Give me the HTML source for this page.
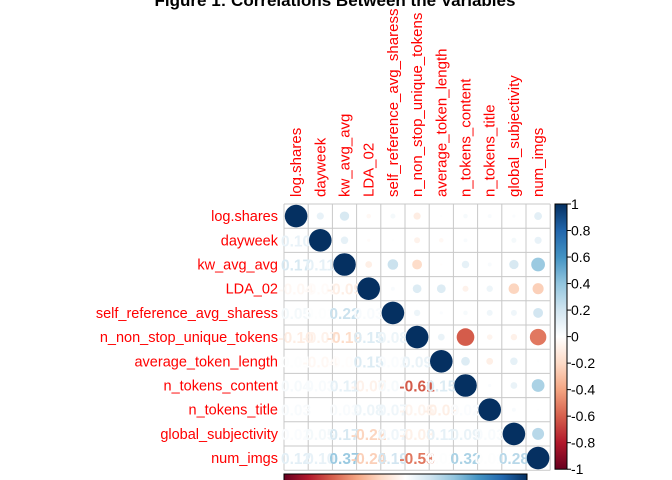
<!DOCTYPE html>
<html><head><meta charset="utf-8"><style>
html,body{margin:0;padding:0;background:#fff;}
svg{display:block;font-family:"Liberation Sans",Arial,sans-serif;}
</style></head><body>
<svg id="chart" width="672" height="480" viewBox="0 0 672 480">
<text x="335" y="6" text-anchor="middle" font-size="17" font-weight="bold" fill="#000">Figure 1: Correlations Between the Variables</text>
<defs>
<linearGradient id="hgrad" x1="0" x2="1" y1="0" y2="0"></linearGradient>
<linearGradient id="vgrad" x1="0" x2="0" y1="1" y2="0"></linearGradient>
</defs>
</svg>
<script>
const variables = ["log.shares","dayweek","kw_avg_avg","LDA_02","self_reference_avg_sharess","n_non_stop_unique_tokens","average_token_length","n_tokens_content","n_tokens_title","global_subjectivity","num_imgs"];
const lowerRows = [
 [],
 [0.10],
 [0.17,0.11],
 [-0.04,-0.02,-0.09],
 [0.05,0.01,0.22,0.03],
 [-0.10,-0.07,-0.19,0.15,0.08],
 [0.01,-0.04,-0.01,0.15,0.02,0.09],
 [0.04,0.03,0.11,-0.07,0.04,-0.61,0.15],
 [0.03,0.00,0.03,0.08,0.07,-0.06,-0.09,0.02],
 [0.02,0.05,0.17,-0.22,0.07,-0.08,0.11,0.09,0.03],
 [0.12,0.10,0.37,-0.24,0.19,-0.53,0.01,0.32,0.01,0.28]
];
const colorTicks = [1,0.8,0.6,0.4,0.2,0,-0.2,-0.4,-0.6,-0.8,-1];
const palette = ["#67001F","#B2182B","#D6604D","#F4A582","#FDDBC7","#FFFFFF","#D1E5F0","#92C5DE","#4393C3","#2166AC","#053061"];

const NS="http://www.w3.org/2000/svg";
const svg=document.getElementById('chart');
const gx0=284, gy0=204, cell=24.2, n=variables.length;
const xPos=i=>gx0+cell*(i+0.5);
const yPos=i=>gy0+cell*(i+0.5);
function hex(h){return [1,3,5].map(k=>parseInt(h.substr(k,2),16));}
function colorOf(v){
  const t=(v+1)/2*(palette.length-1);
  const i=Math.min(palette.length-2,Math.floor(t)), f=t-i;
  const a=hex(palette[i]), b=hex(palette[i+1]);
  return 'rgb('+a.map((c,k)=>Math.round(c+(b[k]-c)*f)).join(',')+')';
}
function corr(i,j){ if(i===j) return 1; return i>j?lowerRows[i][j]:lowerRows[j][i]; }
function mk(tag,attrs){const e=document.createElementNS(NS,tag);for(const k in attrs)e.setAttribute(k,attrs[k]);svg.appendChild(e);return e;}

['hgrad','vgrad'].forEach(id=>{
  const g=document.getElementById(id);
  palette.forEach((c,k)=>{const s=document.createElementNS(NS,'stop');s.setAttribute('offset',(k/(palette.length-1)));s.setAttribute('stop-color',c);g.appendChild(s);});
});

for(let k=0;k<=n;k++){
  const v=mk('line',{x1:gx0+cell*k,x2:gx0+cell*k,y1:gy0,y2:gy0+cell*n,stroke:'#c8c8c8','stroke-width':1});
  
  
  const h=mk('line',{x1:gx0,x2:gx0+cell*n,y1:gy0+cell*k,y2:gy0+cell*k,stroke:'#c8c8c8','stroke-width':1});
  
  
}

variables.forEach((name,i)=>{
  const r=mk('text',{x:278,y:yPos(i)+5,'text-anchor':'end','font-size':14.5,fill:'#ff0000'});
  r.textContent=name;
  
  
  const c=mk('text',{x:0,y:0,'font-size':15,fill:'#ff0000',transform:'translate('+(xPos(i)+5)+',197) rotate(-90)'});
  c.textContent=name;
  
  
});

for(let i=1;i<n;i++){
  for(let j=0;j<i;j++){
    const v=lowerRows[i][j];
    const t=mk('text',{x:xPos(j),y:yPos(i)+6,'text-anchor':'middle','font-size':15.5,'font-weight':'bold',fill:colorOf(v)});
    t.textContent=v.toFixed(2).replace('0.00','0');
    
    
  }
}
for(let i=0;i<n;i++){
  for(let j=i;j<n;j++){
    const v=corr(i,j);
    const c=mk('circle',{cx:xPos(j),cy:yPos(i),r:Math.sqrt(Math.abs(v))*11.3,fill:colorOf(v)});
    
    
  }
}

const cb=mk('rect',{x:555,y:gy0,width:12,height:cell*n-1,fill:'url(#vgrad)',stroke:'#000','stroke-width':1});


colorTicks.forEach(v=>{
  const y=gy0+(1-v)/2*(cell*n-1);
  const tk=mk('line',{x1:567,x2:571,y1:y,y2:y,stroke:'#000'});
  
  
  const t=mk('text',{x:571,y:y+5,'font-size':14,fill:'#000'});
  t.textContent=String(v);
  
  
});
const hb=mk('rect',{x:gx0,y:474,width:243,height:10,fill:'url(#hgrad)',stroke:'#000','stroke-width':1});


</script>
</body></html>
